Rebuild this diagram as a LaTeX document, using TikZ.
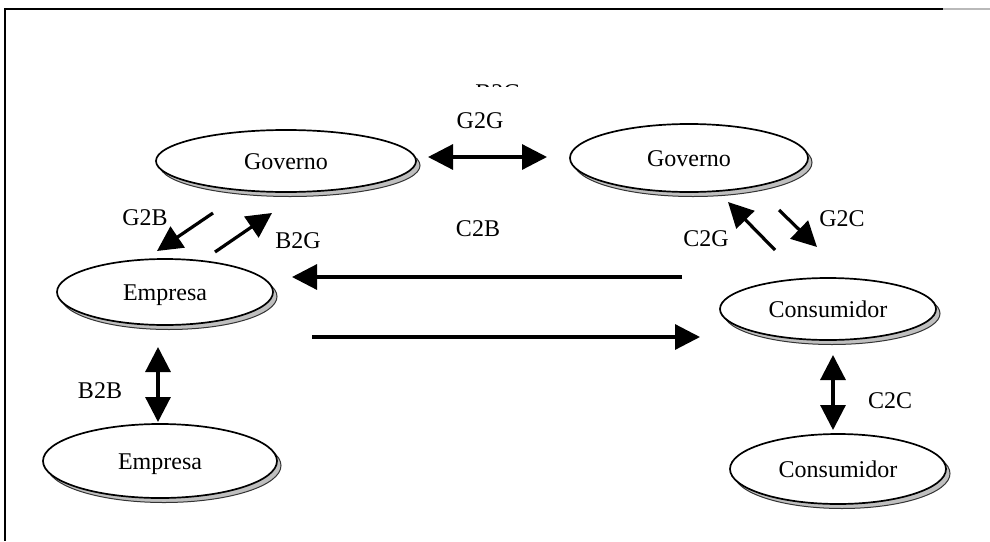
\documentclass[tikz,border=0pt]{standalone}
\usepackage{fontspec}
\setmainfont{Liberation Serif}
\usetikzlibrary{arrows.meta,shapes.geometric,shadows}
\begin{document}
\begin{tikzpicture}[x=1pt,y=-1pt,
  entity/.style={ellipse,draw=black,line width=1.7pt,fill=white,inner sep=0pt,
    font=\fontsize{24}{28}\selectfont,text height=16pt,text depth=0pt,
    general shadow={fill=gray!50,draw=black!80,line width=1pt,
      shadow xshift=4pt,shadow yshift=-4.5pt}},
  lbl/.style={inner sep=0pt,font=\fontsize{24}{28}\selectfont,
    text height=16pt,text depth=0pt},
  flow/.style={line width=3.2pt,-{Triangle[length=25pt,width=25pt]}},
  both/.style={line width=3.2pt,{Triangle[length=25pt,width=25pt]}-{Triangle[length=25pt,width=25pt]}}]

% page area and frame
\useasboundingbox (0,0) rectangle (990,541);
\draw[line width=2pt] (943,9) -- (5,9) -- (5,541);
\draw[line width=2pt,gray!55] (943,9) -- (990,9);

% entities
\node[entity,minimum width=260pt,minimum height=62pt] (govL) at (286,161) {Governo};
\node[entity,minimum width=238pt,minimum height=68pt] (govR) at (689,158) {Governo};
\node[entity,minimum width=216pt,minimum height=66pt] (empT) at (165,292) {Empresa};
\node[entity,minimum width=234pt,minimum height=74pt] (empB) at (160,461) {Empresa};
\node[entity,minimum width=216pt,minimum height=62pt] (conT) at (828,309) {Consumidor};
\node[entity,minimum width=216pt,minimum height=70pt] (conB) at (838,469) {Consumidor};

% arrow end points
\coordinate (ggA) at (428,157);  \coordinate (ggB) at (547,157);
\coordinate (gbA) at (213,213);  \coordinate (gbB) at (157,251);
\coordinate (bgA) at (215,252);  \coordinate (bgB) at (272,213);
\coordinate (cgA) at (775,250);  \coordinate (cgB) at (728,202);
\coordinate (gcA) at (779,210);  \coordinate (gcB) at (817,247);
\coordinate (cbA) at (682,277);  \coordinate (cbB) at (292,277);
\coordinate (bcA) at (312,337);  \coordinate (bcB) at (700,337);
\coordinate (bbA) at (158,347);  \coordinate (bbB) at (158,422);
\coordinate (ccA) at (833,355);  \coordinate (ccB) at (833,430);

% connectors
\draw[both] (ggA) -- (ggB);
\draw[flow] (gbA) -- (gbB);
\draw[flow] (bgA) -- (bgB);
\draw[flow] (cgA) -- (cgB);
\draw[flow] (gcA) -- (gcB);
\draw[flow] (cbA) -- (cbB);
\draw[flow] (bcA) -- (bcB);
\draw[both] (bbA) -- (bbB);
\draw[both] (ccA) -- (ccB);

% labels
\begin{scope}
  \clip (460,0) rectangle (540,86);
  \node[lbl] (tB2G) at (498,92) {B2G};
\end{scope}
\node[lbl] (tG2G) at (480,120) {G2G};
\node[lbl] (tG2B) at (145,217) {G2B};
\node[lbl] (tB2G2) at (298,240) {B2G};
\node[lbl] (tC2B) at (478,228) {C2B};
\node[lbl] (tC2G) at (706,238) {C2G};
\node[lbl] (tG2C) at (842,218) {G2C};
\node[lbl] (tB2B) at (100,390) {B2B};
\node[lbl] (tC2C) at (890,400) {C2C};
\end{tikzpicture}
\end{document}
